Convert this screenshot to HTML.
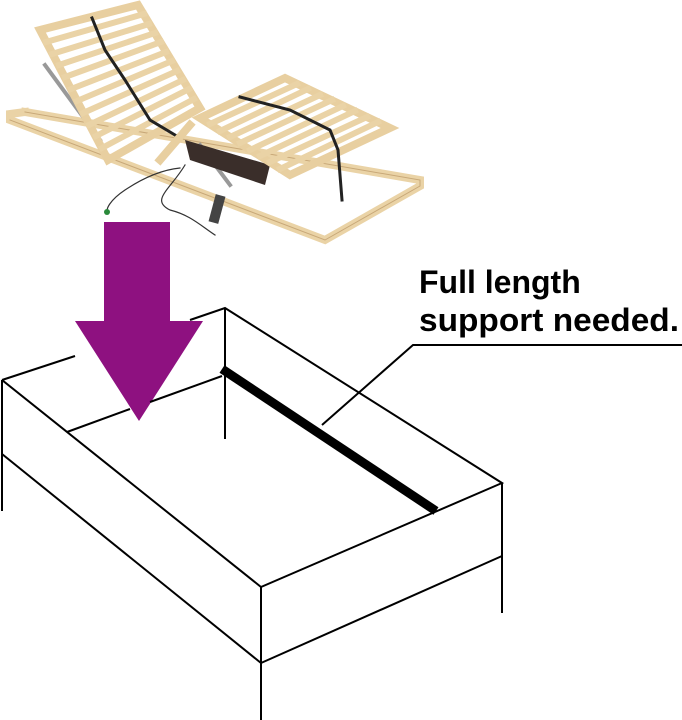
<!DOCTYPE html>
<html><head><meta charset="utf-8"><style>
html,body{margin:0;padding:0;background:#fff;width:682px;height:720px;overflow:hidden}
</style></head><body>
<svg width="682" height="720" viewBox="0 0 682 720" xmlns="http://www.w3.org/2000/svg">
<g stroke-linecap="square">
<polyline points="25,112 420,180 420,186 325,240 10,120 10,114 25,112" fill="none" stroke="#ead3a6" stroke-width="8"/>
<polyline points="25,112 420,180 420,186 325,240 10,120" fill="none" stroke="#c8a878" stroke-width="1"/>
<line x1="45" y1="65" x2="100" y2="140" stroke="#999" stroke-width="4"/>
<line x1="200" y1="145" x2="230" y2="185" stroke="#999" stroke-width="4"/>
<polygon points="185,140 270,165 265,185 190,160" fill="#3a2e2a"/>
<polygon points="40,30 138,5 200,108 108,160" fill="none" stroke="#e8cfa0" stroke-width="8"/>
<g stroke="#ead3a6" stroke-width="6">
<line x1="46" y1="42" x2="144" y2="14"/><line x1="52" y1="54" x2="149" y2="24"/>
<line x1="59" y1="65" x2="155" y2="33"/><line x1="65" y1="77" x2="161" y2="42"/>
<line x1="71" y1="89" x2="166" y2="52"/><line x1="77" y1="101" x2="172" y2="61"/>
<line x1="83" y1="113" x2="177" y2="71"/><line x1="89" y1="125" x2="183" y2="80"/>
<line x1="96" y1="136" x2="189" y2="89"/><line x1="102" y1="148" x2="194" y2="99"/>
</g>
<polyline points="92,18 105,50 125,80 150,120 175,135" fill="none" stroke="#222" stroke-width="3"/>
<polygon points="200,118 285,78 390,128 290,175" fill="none" stroke="#e8cfa0" stroke-width="8"/>
<g stroke="#ead3a6" stroke-width="6">
<line x1="210" y1="124" x2="297" y2="84"/><line x1="220" y1="131" x2="308" y2="89"/>
<line x1="230" y1="137" x2="320" y2="95"/><line x1="240" y1="143" x2="332" y2="100"/>
<line x1="250" y1="150" x2="343" y2="106"/><line x1="260" y1="156" x2="355" y2="111"/>
<line x1="270" y1="162" x2="367" y2="117"/><line x1="280" y1="169" x2="378" y2="122"/>
</g>
<polyline points="240,97 290,110 330,130 338,150 342,200" fill="none" stroke="#222" stroke-width="3"/>
<line x1="160" y1="160" x2="190" y2="125" stroke="#e8cfa0" stroke-width="8"/>
<path d="M180,168 C160,170 140,180 125,190 110,200 105,210 108,212" fill="none" stroke="#333" stroke-width="1.2"/>
<path d="M185,165 C170,190 150,200 170,210 190,215 200,225 215,235" fill="none" stroke="#333" stroke-width="1.2"/>
<rect x="212" y="195" width="10" height="28" fill="#444" transform="rotate(15 217 209)"/>
<circle cx="107" cy="212" r="3" fill="#2a8a3a"/>
</g>
<rect x="104" y="222" width="66" height="100" fill="#8e1180"/>
<polygon points="75,321 203,321 139,421" fill="#8e1180"/>
<g stroke="#000" stroke-width="2" fill="none">
<polyline points="2,380 75,356"/>
<polyline points="190,320 225,308 502,483 261,587 2,380"/>
<line x1="225" y1="308" x2="225" y2="439"/>
<line x1="2" y1="380" x2="2" y2="511"/>
<line x1="2" y1="454" x2="261" y2="663"/>
<line x1="261" y1="663" x2="502" y2="556"/>
<line x1="261" y1="587" x2="261" y2="720"/>
<line x1="502" y1="483" x2="502" y2="613"/>
<line x1="67" y1="432" x2="130" y2="409"/>
<line x1="150" y1="402" x2="222" y2="376"/>
</g>
<line x1="222" y1="369" x2="436" y2="511" stroke="#000" stroke-width="9"/>
<polyline points="322,425 413,345 682,345" fill="none" stroke="#000" stroke-width="2"/>
<text x="419" y="293" font-family="Liberation Sans, sans-serif" font-weight="bold" font-size="32" fill="#000">Full length</text>
<text x="419" y="331" font-family="Liberation Sans, sans-serif" font-weight="bold" font-size="32" textLength="260" lengthAdjust="spacingAndGlyphs" fill="#000">support needed.</text>
</svg>
</body></html>
